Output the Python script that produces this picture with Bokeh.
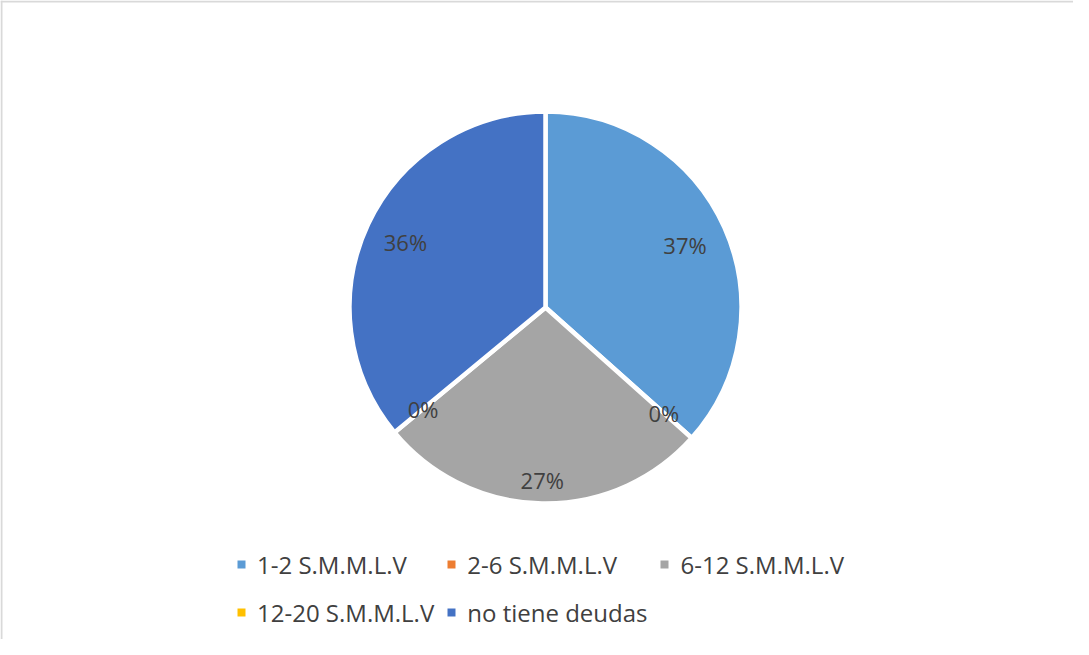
import math
from bokeh.plotting import figure
from bokeh.models import Range1d, ColumnDataSource, Legend, LegendItem, Span
from bokeh.core.properties import value
from bokeh.embed import file_html
from bokeh.resources import INLINE

categories = ["1-2 S.M.M.L.V", "2-6 S.M.M.L.V", "6-12 S.M.M.L.V", "12-20 S.M.M.L.V", "no tiene deudas"]
values = [36.6, 0.0, 27.4, 0.0, 36.0]
labels = ["37%", "0%", "27%", "0%", "36%"]
colors = ["#5B9BD5", "#ED7D31", "#A5A5A5", "#FFC000", "#4472C4"]

# layout constants
W, H = 1073, 639
CX, CY, R = 545, H - 307, 196
label_radius = [0.78, 0.81, 0.88, 0.81, 0.79]
FONT = "Open Sans"
TEXT_COLOR = "#404040"

p = figure(width=W, height=H, output_backend="svg", toolbar_location=None,
           x_range=Range1d(0, W), y_range=Range1d(0, H), min_border=0)
p.axis.visible = False
p.grid.visible = False
p.outline_line_color = None
p.background_fill_color = "white"
p.border_fill_color = "white"

# chart-area border (only top and left edges fall inside the window in the original)
p.add_layout(Span(location=1, dimension="height", line_color="#d9d9d9", line_width=2))
p.add_layout(Span(location=H - 1, dimension="width", line_color="#d9d9d9", line_width=2))

total = sum(values)
starts, ends, mids = [], [], []
cum = 0.0
for v in values:
    f = v / total
    starts.append(math.pi / 2 - 2 * math.pi * cum)
    ends.append(math.pi / 2 - 2 * math.pi * (cum + f))
    mids.append(math.pi / 2 - 2 * math.pi * (cum + f / 2))
    cum += f

nz = [i for i, v in enumerate(values) if v > 0]
wsrc = ColumnDataSource(dict(
    x=[CX] * len(nz), y=[CY] * len(nz),
    start=[starts[i] for i in nz], end=[ends[i] for i in nz],
    color=[colors[i] for i in nz],
))
p.wedge(x="x", y="y", radius=R, start_angle="start", end_angle="end",
        direction="clock", fill_color="color", line_color="white", line_width=4.5,
        source=wsrc)

lsrc = ColumnDataSource(dict(
    x=[CX + label_radius[i] * R * math.cos(mids[i]) for i in range(len(values))],
    y=[CY + label_radius[i] * R * math.sin(mids[i]) for i in range(len(values))],
    text=labels,
))
p.text(x="x", y="y", text="text", source=lsrc, text_align="center",
       text_baseline="middle", text_font=value(FONT), text_font_size="22px",
       text_color=TEXT_COLOR)

# legend swatches: zero-size rects (invisible in plot, drawn in legend)
items = []
for cat, c in zip(categories, colors):
    r = p.rect(x=[CX], y=[CY], width=0, height=0, fill_color=c, line_color=None)
    items.append(LegendItem(label=cat, renderers=[r]))

legend = Legend(items=items, ncols=3, orientation="horizontal", location=(236, 9),
                glyph_width=10, glyph_height=10, label_standoff=11,
                label_height=36, spacing=12, padding=0, margin=0,
                border_line_color=None, background_fill_alpha=0,
                label_text_font=FONT, label_text_font_size="24px",
                label_text_color=TEXT_COLOR)
p.add_layout(legend, "center")

open("out.html", "w").write(file_html(p, INLINE))
